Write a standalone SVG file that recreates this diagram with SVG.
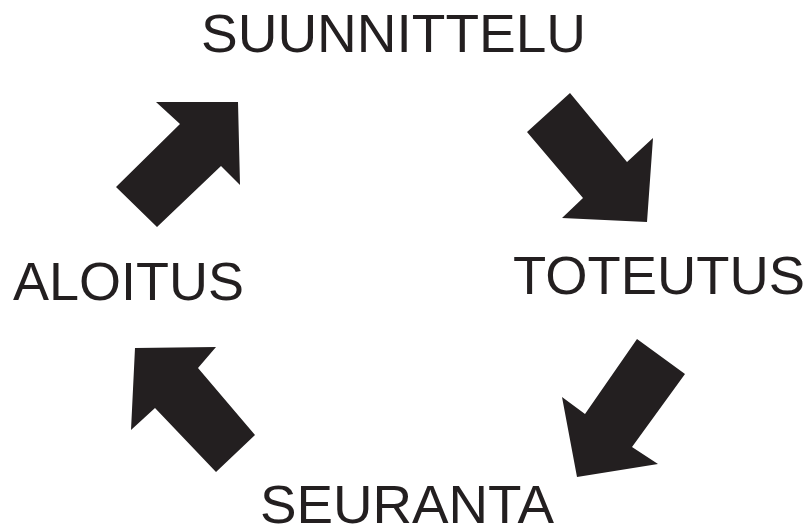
<svg xmlns="http://www.w3.org/2000/svg" width="808" height="531" viewBox="0 0 808 531">
<style>
.lbl{font-family:"Liberation Sans",Arial,sans-serif;font-size:53px;fill:#231f20}
.arr{fill:#231f20}
</style>
<rect width="808" height="531" fill="#ffffff"/>
<g id="suunnittelu"><text class="lbl" x="201" y="52" textLength="385" lengthAdjust="spacingAndGlyphs">SUUNNITTELU</text></g>
<g id="toteutus"><text class="lbl" x="513" y="294" textLength="292" lengthAdjust="spacingAndGlyphs">TOTEUTUS</text></g>
<g id="seuranta"><text class="lbl" x="260" y="523" textLength="294" lengthAdjust="spacingAndGlyphs">SEURANTA</text></g>
<g id="aloitus"><text class="lbl" x="13" y="300" textLength="231" lengthAdjust="spacingAndGlyphs">ALOITUS</text></g>
<g id="connectors">
<polygon class="arr" points="156,102 238,102 240,185 221,166 157,227 116,187 180,124"/>
<polygon class="arr" points="570,93 527,132 583,198 562,218 647,222 653,138 627,162"/>
<polygon class="arr" points="637,339 685,374 632,447 658,464 577,477 562,397 585,414"/>
<polygon class="arr" points="135,348 216,347 198,368 255,435 216,472 155,408 131,430"/>
</g>
</svg>
